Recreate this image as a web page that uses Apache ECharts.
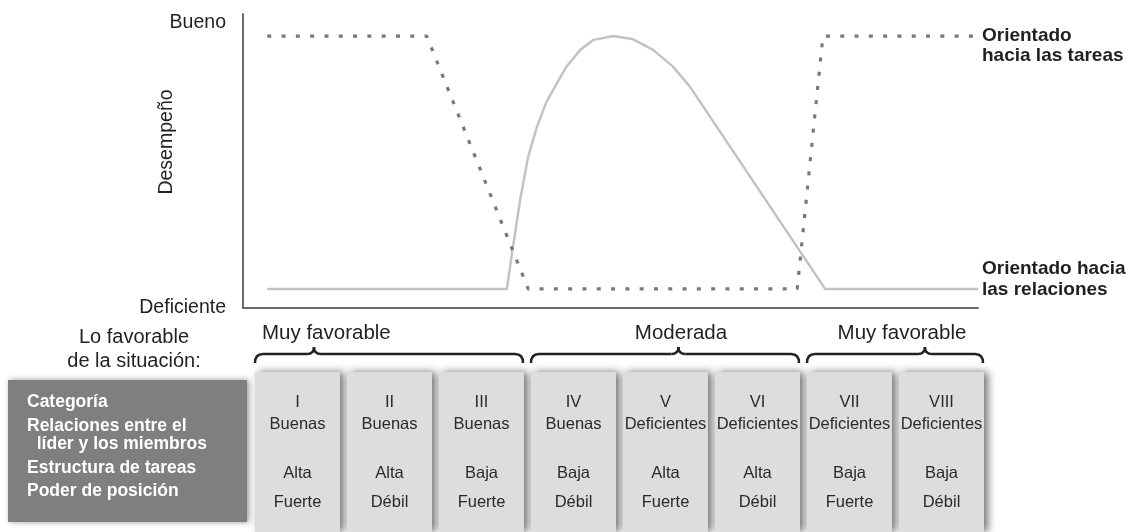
<!DOCTYPE html>
<html>
<head>
<meta charset="utf-8">
<script src="https://cdn.jsdelivr.net/npm/echarts@6/dist/echarts.min.js"></script>
<style>
html, body { margin: 0; padding: 0; background: #fff; }
#chart { width: 1130px; height: 532px; }
</style>
</head>
<body>
<div id="chart"></div>
<script>
var FONT = 'Liberation Sans';
var TXT = '#231f20';

// curvas (x: 0-100 a lo ancho del eje, y: 0 = deficiente, 100 = bueno)
var tareasX = [3.3, 25.0, 38.8, 75.4, 78.9, 100];
var tareasY = [92.5, 92.5, 6.5, 6.5, 92.5, 92.5];
var relacionesX = [3.3, 35.9, 36.6, 37.7, 38.8, 40.0, 41.3, 42.7, 44.0, 45.9, 47.7, 50.4, 53.1, 55.8, 58.5, 60.8, 79.2, 100];
var relacionesY = [6.5, 6.5, 18.6, 36.7, 51.5, 61.7, 70.2, 76.4, 82.1, 87.8, 91.2, 92.5, 91.4, 87.8, 82.1, 75.3, 6.5, 6.5];

// etiquetas del eje vertical
var yLabels = ['Deficiente', 'Bueno'];
var yLabelValues = [0, 97];

// tabla de situaciones
var categorias = ['I', 'II', 'III', 'IV', 'V', 'VI', 'VII', 'VIII'];
var relacionesLM = ['Buenas', 'Buenas', 'Buenas', 'Buenas', 'Deficientes', 'Deficientes', 'Deficientes', 'Deficientes'];
var estructura = ['Alta', 'Alta', 'Baja', 'Baja', 'Alta', 'Alta', 'Baja', 'Baja'];
var poder = ['Fuerte', 'Débil', 'Fuerte', 'Débil', 'Fuerte', 'Débil', 'Fuerte', 'Débil'];
var filas = ['Categoría', 'Relaciones entre el', '  líder y los miembros', 'Estructura de tareas', 'Poder de posición'];

// agrupaciones (llaves)
var grupos = ['Muy favorable', 'Moderada', 'Muy favorable'];
var gruposDesde = [0, 3, 6];
var gruposHasta = [2, 5, 7];

function pares(xs, ys) {
    return xs.map(function (x, i) { return [x, ys[i]]; });
}

function texto(x, y, t, opts) {
    opts = opts || {};
    var al = opts.align || 'center';
    return {
        type: 'text', x: x, y: y, z: 10,
        rotation: opts.rotation || 0,
        style: {
            text: t,
            fill: opts.fill || TXT,
            font: (opts.bold ? 'bold ' : '') + (opts.size || 16) + 'px "' + FONT + '"',
            align: al, textAlign: al,
            verticalAlign: 'middle', textVerticalAlign: 'middle'
        }
    };
}

// layout de la tabla
var COL_X0 = 255, COL_STEP = 92, COL_W = 85;
var filasColY = [402, 424, 473, 502];
var filasHdrY = [402, 426, 444, 468, 491];

var graficos = [];

// encabezado gris
graficos.push({
    type: 'rect', shape: { x: 8, y: 380, width: 239, height: 142 },
    style: { fill: '#7e7f81', shadowColor: 'rgba(0,0,0,0.4)', shadowBlur: 6, shadowOffsetX: 2 }
});
filas.forEach(function (f, i) {
    graficos.push(texto(27, filasHdrY[i], f, { align: 'left', bold: true, fill: '#fff', size: 17.5 }));
});

// columnas
categorias.forEach(function (c, i) {
    var x = COL_X0 + COL_STEP * i;
    graficos.push({
        type: 'rect', shape: { x: x, y: 372, width: COL_W, height: 160 },
        style: { fill: '#dcdddf', shadowColor: 'rgba(0,0,0,0.55)', shadowBlur: 8, shadowOffsetX: 4 }
    });
    var cx = x + COL_W / 2;
    [c, relacionesLM[i], estructura[i], poder[i]].forEach(function (t, k) {
        graficos.push(texto(cx, filasColY[k], t, { size: 16.5, fill: '#2a2a2a' }));
    });
});

// llaves
var picos = [0.22, 0.55, 0.67];
var etiquetaX = [262, 681, 902];
grupos.forEach(function (g, i) {
    var x0 = COL_X0 + COL_STEP * gruposDesde[i];
    var x1 = COL_X0 + COL_STEP * gruposHasta[i] + COL_W - 1;
    var pk = x0 + (x1 - x0) * picos[i];
    var yl = 354, yb = 363, yt = 347;
    var st = { stroke: '#222', lineWidth: 2.5, fill: null };
    graficos.push(
        { type: 'bezierCurve', shape: { x1: x0, y1: yb, cpx1: x0, cpy1: yl, x2: x0 + 8, y2: yl }, style: st },
        { type: 'line', shape: { x1: x0 + 8, y1: yl, x2: pk - 7, y2: yl }, style: st },
        { type: 'bezierCurve', shape: { x1: pk - 7, y1: yl, cpx1: pk, cpy1: yl, x2: pk, y2: yt }, style: st },
        { type: 'bezierCurve', shape: { x1: pk, y1: yt, cpx1: pk, cpy1: yl, x2: pk + 7, y2: yl }, style: st },
        { type: 'line', shape: { x1: pk + 7, y1: yl, x2: x1 - 8, y2: yl }, style: st },
        { type: 'bezierCurve', shape: { x1: x1 - 8, y1: yl, cpx1: x1, cpy1: yl, x2: x1, y2: yb }, style: st }
    );
    graficos.push(texto(etiquetaX[i], 333, g, { align: i === 0 ? 'left' : 'center', size: 20.5 }));
});

graficos.push(texto(134, 337, 'Lo favorable', { size: 20 }));
graficos.push(texto(134, 361, 'de la situación:', { size: 20 }));
graficos.push(texto(167, 142, 'Desempeño', { size: 19.5, rotation: Math.PI / 2 }));

var chart = echarts.init(document.getElementById('chart'), null, { renderer: 'canvas' });

var option = {
    animation: false,
    backgroundColor: '#fff',
    textStyle: { fontFamily: FONT },
    grid: { left: 243, right: 152, top: 14, bottom: 224 },
    xAxis: {
        type: 'value', min: 0, max: 100,
        axisLine: { show: true, lineStyle: { color: '#6b6b6b', width: 2 } },
        axisTick: { show: false }, axisLabel: { show: false }, splitLine: { show: false }
    },
    yAxis: {
        type: 'value', min: 0, max: 100,
        axisLine: { show: true, lineStyle: { color: '#6b6b6b', width: 2 } },
        axisTick: { show: false }, splitLine: { show: false },
        axisLabel: {
            customValues: yLabelValues,
            margin: 17,
            fontSize: 19.5, color: TXT, fontFamily: FONT,
            formatter: function (v) { return yLabels[yLabelValues.indexOf(v)]; }
        }
    },
    series: [
        {
            name: 'Orientado hacia las tareas',
            type: 'line',
            data: pares(tareasX, tareasY),
            symbol: 'none',
            lineStyle: { color: '#787878', width: 3.2, type: [4, 10.3], cap: 'butt' },
            endLabel: {
                show: true, distance: 4, offset: [0, 10],
                formatter: 'Orientado\nhacia las tareas',
                fontFamily: FONT, fontWeight: 'bold', fontSize: 19, lineHeight: 20, color: TXT
            },
            z: 3
        },
        {
            name: 'Orientado hacia las relaciones',
            type: 'line',
            data: pares(relacionesX, relacionesY),
            symbol: 'none',
            lineStyle: { color: '#c3c3c3', width: 2.5, join: 'round' },
            endLabel: {
                show: true, distance: 4, offset: [0, -9.5],
                formatter: 'Orientado hacia\nlas relaciones',
                fontFamily: FONT, fontWeight: 'bold', fontSize: 19, lineHeight: 21, color: TXT
            },
            z: 2
        }
    ],
    graphic: graficos
};

chart.setOption(option);
</script>
</body>
</html>
